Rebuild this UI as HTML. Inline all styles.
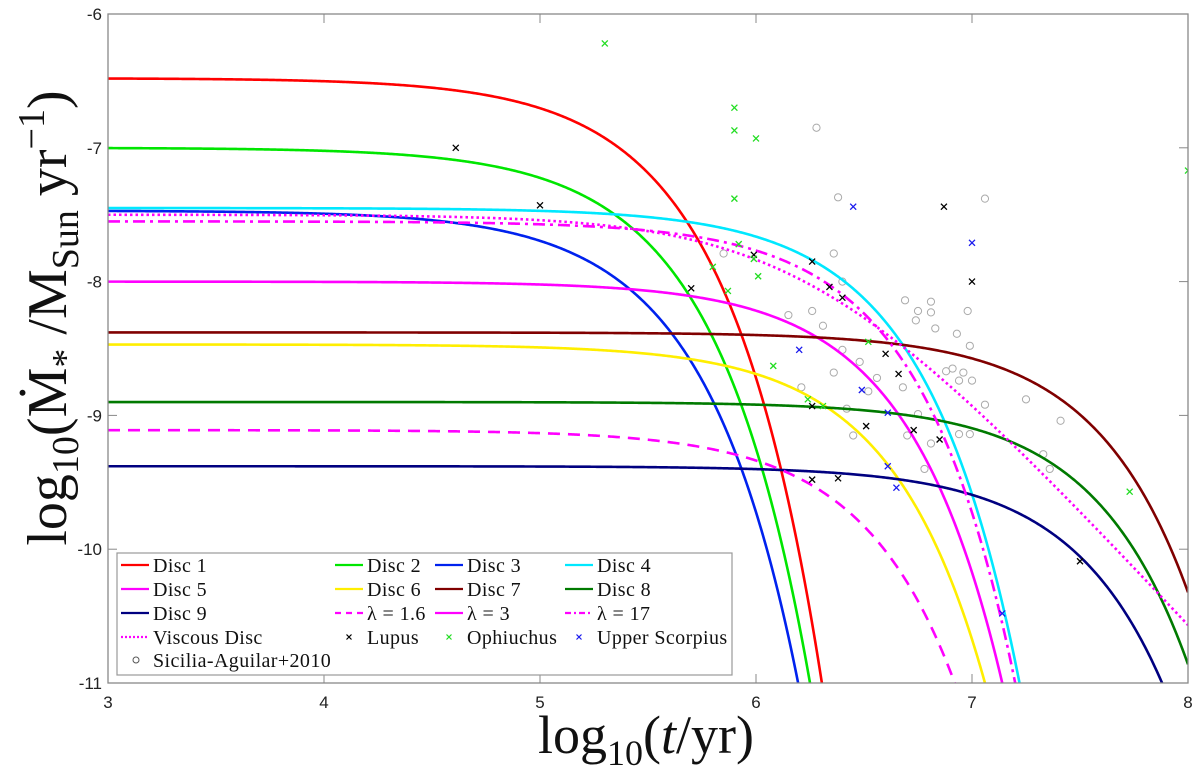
<!DOCTYPE html>
<html><head><meta charset="utf-8"><style>
body{margin:0;background:#fff;}
svg{display:block;}
.tick{font-family:"Liberation Sans",sans-serif;font-size:17px;fill:#222;}
.lab{font-family:"Liberation Serif",serif;fill:#111;}
.leg{font-family:"Liberation Serif",serif;font-size:20px;fill:#111;letter-spacing:0.4px;}
</style></head><body>
<svg id="chart" width="1200" height="774" viewBox="0 0 1200 774">
<rect x="0" y="0" width="1200" height="774" fill="#fff"/>
<g id="plot"></g>
</svg>
<script>
const xTicks=[3,4,5,6,7,8];
const yTicks=[-6,-7,-8,-9,-10,-11];
// exponential-decay model curves: start level, log10 time where it reaches -11
const curveNames=["Disc 1","Disc 2","Disc 3","Disc 4","Disc 5","Disc 6","Disc 7","Disc 8","Disc 9","lambda 1.6","lambda 17"];
const curveStart=[-6.48,-7.0,-7.47,-7.45,-8.0,-8.47,-8.38,-8.9,-9.38,-9.11,-7.55];
const curveEnd=[6.305,6.25,6.195,7.22,7.14,7.06,8.13,8.03,7.88,6.92,7.20];
const curveColor=["#ff0000","#00e600","#0022ee","#00e8ff","#ff00ff","#ffee00","#800000","#007a00","#000080","#ff00ff","#ff00ff"];
const curveDash=["","","","","","","","","","12,8","12,5,3,5"];
// viscous disc: start level, log10 scale time, power index
const viscStart=-7.5, viscScale=6.255, viscPow=1.75;
const lupusX=[4.61,5.0,5.70,5.99,6.26,6.34,6.40,6.87,7.0,6.60,6.66,6.26,6.51,6.73,6.85,6.26,6.38,7.50];
const lupusY=[-7.0,-7.43,-8.05,-7.80,-7.85,-8.04,-8.12,-7.44,-8.0,-8.54,-8.69,-8.93,-9.08,-9.11,-9.18,-9.48,-9.47,-10.09];
const ophX=[5.30,5.90,5.90,6.0,5.90,5.92,5.99,6.01,5.80,5.87,6.08,6.52,6.24,6.31,8.0,7.73];
const ophY=[-6.22,-6.70,-6.87,-6.93,-7.38,-7.72,-7.83,-7.96,-7.89,-8.07,-8.63,-8.45,-8.88,-8.93,-7.17,-9.57];
const uscoX=[6.45,7.0,6.20,6.49,6.61,6.61,6.65,7.14];
const uscoY=[-7.44,-7.71,-8.51,-8.81,-8.98,-9.38,-9.54,-10.48];
const sicX=[6.28,6.38,7.06,6.36,6.40,5.85,6.15,6.26,6.31,6.69,6.81,6.75,6.81,6.74,6.98,6.83,6.93,6.99,6.40,6.48,6.36,6.56,6.68,6.21,6.52,6.88,6.91,6.96,6.94,7.0,7.06,7.25,6.42,6.75,6.45,6.70,6.81,6.94,6.99,7.33,7.36,6.78,7.41];
const sicY=[-6.85,-7.37,-7.38,-7.79,-8.0,-7.79,-8.25,-8.22,-8.33,-8.14,-8.15,-8.22,-8.23,-8.29,-8.22,-8.35,-8.39,-8.48,-8.51,-8.60,-8.68,-8.72,-8.79,-8.79,-8.82,-8.67,-8.65,-8.68,-8.74,-8.74,-8.92,-8.88,-8.95,-8.99,-9.15,-9.15,-9.21,-9.14,-9.14,-9.29,-9.40,-9.40,-9.04];

const L=108,R=1188,T=14,B=683;
const sx=v=>L+(v-3)/5*(R-L);
const sy=v=>T+(-6-v)/5*(B-T);
const NS="http://www.w3.org/2000/svg";
const plot=document.getElementById('plot');
function mk(tag,attrs,parent){const e=document.createElementNS(NS,tag);for(const k in attrs)e.setAttribute(k,attrs[k]);(parent||plot).appendChild(e);return e;}

const clip=mk('clipPath',{id:'clp'});
mk('rect',{x:L,y:T,width:R-L,height:B-T},clip);

xTicks.forEach(v=>{
  const t=mk('line',{x1:sx(v),x2:sx(v),y1:B,y2:B-9,stroke:'#888','stroke-width':1});
  
  
  const t2=mk('line',{x1:sx(v),x2:sx(v),y1:T,y2:T+9,stroke:'#888','stroke-width':1});
  
  
  const tx=mk('text',{x:sx(v),y:B+25,'text-anchor':'middle',class:'tick'});
  tx.textContent=String(v);
  
  
});
yTicks.forEach(v=>{
  const t=mk('line',{x1:L,x2:L+9,y1:sy(v),y2:sy(v),stroke:'#888','stroke-width':1});
  
  
  const t2=mk('line',{x1:R,x2:R-9,y1:sy(v),y2:sy(v),stroke:'#888','stroke-width':1});
  
  
  const tx=mk('text',{x:L-6,y:sy(v)+6,'text-anchor':'end',class:'tick'});
  tx.textContent=String(v);
  
  
});

const cg=mk('g',{'clip-path':'url(#clp)'});



function pathFrom(fn){
  let d='';
  for(let i=0;i<=800;i++){
    const x=3+5*i/800; let y=fn(x);
    if(y<-11.3){ d+=(d?'L':'M')+sx(x).toFixed(2)+','+sy(-11.3).toFixed(2); break; }
    d+=(d?'L':'M')+sx(x).toFixed(2)+','+sy(y).toFixed(2);
  }
  return d;
}
function cross(x,y,col,name){
  const px=sx(x),py=sy(y),s=3;
  const p=mk('path',{d:`M${px-s},${py-s}L${px+s},${py+s}M${px-s},${py+s}L${px+s},${py-s}`,stroke:col,'stroke-width':1.3,fill:'none'},cg);
  
  
}
sicX.forEach((x,i)=>{
  const c=mk('circle',{cx:sx(x),cy:sy(sicY[i]),r:3.6,fill:'none',stroke:'#aaa','stroke-width':1},cg);
  
  
});

curveStart.forEach((y0,i)=>{
  const tc=Math.pow(10,curveEnd[i]);
  const k=(y0+11);
  const d=pathFrom(x=>y0-k*Math.pow(10,x)/tc);
  const p=mk('path',{d,fill:'none',stroke:curveColor[i],'stroke-width':2.6},cg);
  if(curveDash[i])p.setAttribute('stroke-dasharray',curveDash[i]);
  
  
});
{
  const ts=Math.pow(10,viscScale);
  const d=pathFrom(x=>viscStart-viscPow*Math.log10(1+Math.pow(10,x)/ts));
  const p=mk('path',{d,fill:'none',stroke:'#ff00ff','stroke-width':2.6,'stroke-dasharray':'2.5,3'},cg);
  
  
}
lupusX.forEach((x,i)=>cross(x,lupusY[i],'#000','lupus-point'));
ophX.forEach((x,i)=>cross(x,ophY[i],'#22dd22','ophiuchus-point'));
uscoX.forEach((x,i)=>cross(x,uscoY[i],'#1a1aee','upper-scorpius-point'));

const box=mk('rect',{x:L,y:T,width:R-L,height:B-T,fill:'none',stroke:'#888','stroke-width':1.3});



// legend
const lg=mk('g',{});


mk('rect',{x:117,y:553,width:615,height:122,fill:'#fff',stroke:'#999','stroke-width':1.2},lg);
const legItems=[
 ['Disc 1','#ff0000','',0,0],['Disc 2','#00e600','',1,0],['Disc 3','#0022ee','',2,0],['Disc 4','#00e8ff','',3,0],
 ['Disc 5','#ff00ff','',0,1],['Disc 6','#ffee00','',1,1],['Disc 7','#800000','',2,1],['Disc 8','#007a00','',3,1],
 ['Disc 9','#000080','',0,2],['λ = 1.6','#ff00ff','6,5',1,2],['λ = 3','#ff00ff','',2,2],['λ = 17','#ff00ff','6,3,2,3',3,2],
 ['Viscous Disc','#ff00ff','2,2',0,3],['Lupus','#000','x',1,3],['Ophiuchus','#22dd22','x',2,3],['Upper Scorpius','#1a1aee','x',3,3],
 ['Sicilia-Aguilar+2010','#555','o',0,4]];
const colX=[121,335,435,565];
const rowY=[565,589,613,637,660];
legItems.forEach(it=>{
  const g=mk('g',{},lg);
  
  
  const x=colX[it[3]],y=rowY[it[4]];
  if(it[2]==='x'){const s=2.5;mk('path',{d:`M${x+14-s},${y-s}L${x+14+s},${y+s}M${x+14-s},${y+s}L${x+14+s},${y-s}`,stroke:it[1],'stroke-width':1.2},g);}
  else if(it[2]==='o'){mk('circle',{cx:x+15,cy:y,r:3,fill:'none',stroke:it[1]},g);}
  else{const l=mk('line',{x1:x,x2:x+28,y1:y,y2:y,stroke:it[1],'stroke-width':2.2},g);if(it[2])l.setAttribute('stroke-dasharray',it[2]);}
  const tx=mk('text',{x:x+32,y:y+7,class:'leg'},g);
  tx.textContent=it[0];
});

const xt=mk('text',{x:646,y:753,'text-anchor':'middle',class:'lab','font-size':54});


xt.innerHTML='log<tspan font-size="36" dy="12">10</tspan><tspan dy="-12">(</tspan><tspan font-style="italic">t</tspan>/yr)';
const yt=mk('text',{x:0,y:0,'text-anchor':'middle',class:'lab','font-size':56,transform:'translate(66,318) rotate(-90)'});


yt.innerHTML='log<tspan font-size="38" dy="12">10</tspan><tspan dy="-12">(Ṁ</tspan><tspan font-size="38" dy="12">*</tspan><tspan dy="-12"> /M</tspan><tspan font-size="38" dy="12">Sun</tspan><tspan dy="-12">  yr</tspan><tspan font-size="38" dy="-22">−1</tspan><tspan dy="22">)</tspan>';
</script>
</body></html>
